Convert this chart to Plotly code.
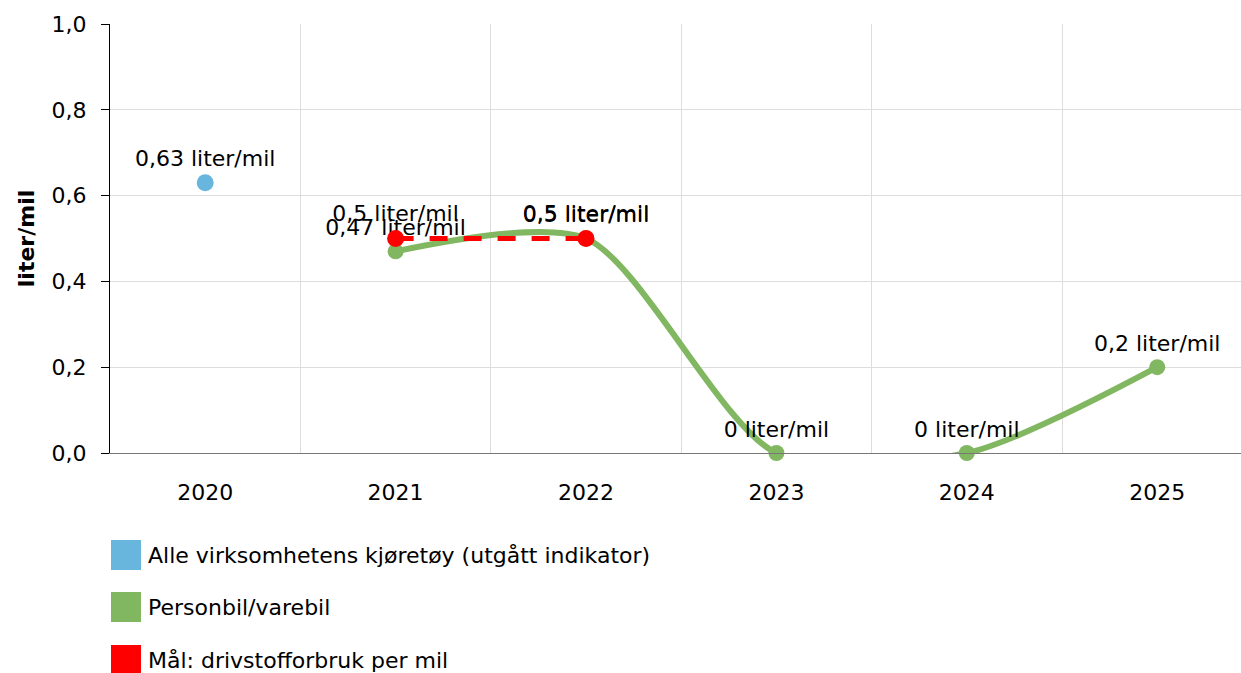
import plotly.graph_objects as go

years = ['2020', '2021', '2022', '2023', '2024', '2025']

alle_years = ['2020']
alle_values = [0.63]

person_years = ['2021', '2022', '2023', '2024', '2025']
person_values = [0.47, 0.5, 0.0, 0.0, 0.2]

maal_years = ['2021', '2022']
maal_values = [0.5, 0.5]

series_names = [
    'Alle virksomhetens kjøretøy (utgått indikator)',
    'Personbil/varebil',
    'Mål: drivstofforbruk per mil',
]
series_colors = ['#68B6DE', '#82B762', '#FF0000']

font_family = 'DejaVu Sans, Verdana, sans-serif'
fsize = 22
W, H = 1241, 673
margin = dict(l=110, r=0, t=24, b=220)
plot_w = W - margin['l'] - margin['r']
plot_h = H - margin['t'] - margin['b']


def labels(values):
    return [f'{v:g}'.replace('.', ',') + ' liter/mil' for v in values]


fig = go.Figure()

fig.add_trace(go.Scatter(
    x=alle_years, y=alle_values,
    mode='markers+text',
    name=series_names[0],
    marker=dict(color=series_colors[0], size=17),
    text=labels(alle_values),
    textposition='top center',
    textfont=dict(size=fsize, color='#000'),
    cliponaxis=False,
))

fig.add_trace(go.Scatter(
    x=person_years, y=person_values,
    mode='lines+markers+text',
    name=series_names[1],
    line=dict(color=series_colors[1], width=6, shape='spline', smoothing=0.75),
    marker=dict(color=series_colors[1], size=16),
    text=labels(person_values),
    textposition='top center',
    textfont=dict(size=fsize, color='#000'),
    cliponaxis=False,
))

fig.add_trace(go.Scatter(
    x=maal_years, y=maal_values,
    mode='lines+markers+text',
    name=series_names[2],
    line=dict(color=series_colors[2], width=5, dash='18px,16px'),
    marker=dict(color=series_colors[2], size=17),
    text=labels(maal_values),
    textposition='top center',
    textfont=dict(size=fsize, color='#000'),
    cliponaxis=False,
))

# legend drawn below the plot as coloured squares + labels
legend_y = [555, 607, 660]
for name, color, py in zip(series_names, series_colors, legend_y):
    fig.add_shape(
        type='rect', xref='paper', yref='paper',
        x0=(111 - margin['l']) / plot_w, x1=(141 - margin['l']) / plot_w,
        y0=(H - margin['b'] - (py + 15)) / plot_h,
        y1=(H - margin['b'] - (py - 15)) / plot_h,
        fillcolor=color, line=dict(width=0),
    )
    fig.add_annotation(
        text=name, xref='paper', yref='paper',
        x=(146 - margin['l']) / plot_w,
        y=(H - margin['b'] - py) / plot_h,
        xanchor='left', yanchor='middle', showarrow=False,
        font=dict(size=fsize, color='#000'),
    )

fig.update_layout(
    width=W, height=H,
    margin=margin,
    separators=', ',
    showlegend=False,
    plot_bgcolor='white',
    paper_bgcolor='white',
    font=dict(family=font_family, size=fsize, color='#000'),
)

fig.update_xaxes(
    type='category',
    categoryorder='array', categoryarray=years,
    range=[-0.5, 5.44],
    tickson='boundaries',
    ticks='', ticklabelstandoff=20,
    showgrid=True, gridcolor='#DDDDDD', gridwidth=1,
    showline=True, linecolor='#777777', linewidth=1,
    tickfont=dict(size=fsize),
)

fig.update_yaxes(
    range=[0, 1],
    dtick=0.2, tickformat='.1f',
    ticks='outside', ticklen=8, tickcolor='#000',
    ticklabelstandoff=10,
    showgrid=True, gridcolor='#DDDDDD', gridwidth=1,
    showline=True, linecolor='#000', linewidth=1,
    zeroline=False,
    tickfont=dict(size=fsize),
    title=dict(text='<b>liter/mil</b>', font=dict(size=fsize), standoff=10),
    automargin=False,
)

fig.write_html(
    'out.html',
    config={'displayModeBar': False},
    post_script="document.body.style.margin='0';document.body.style.overflow='hidden';",
)
